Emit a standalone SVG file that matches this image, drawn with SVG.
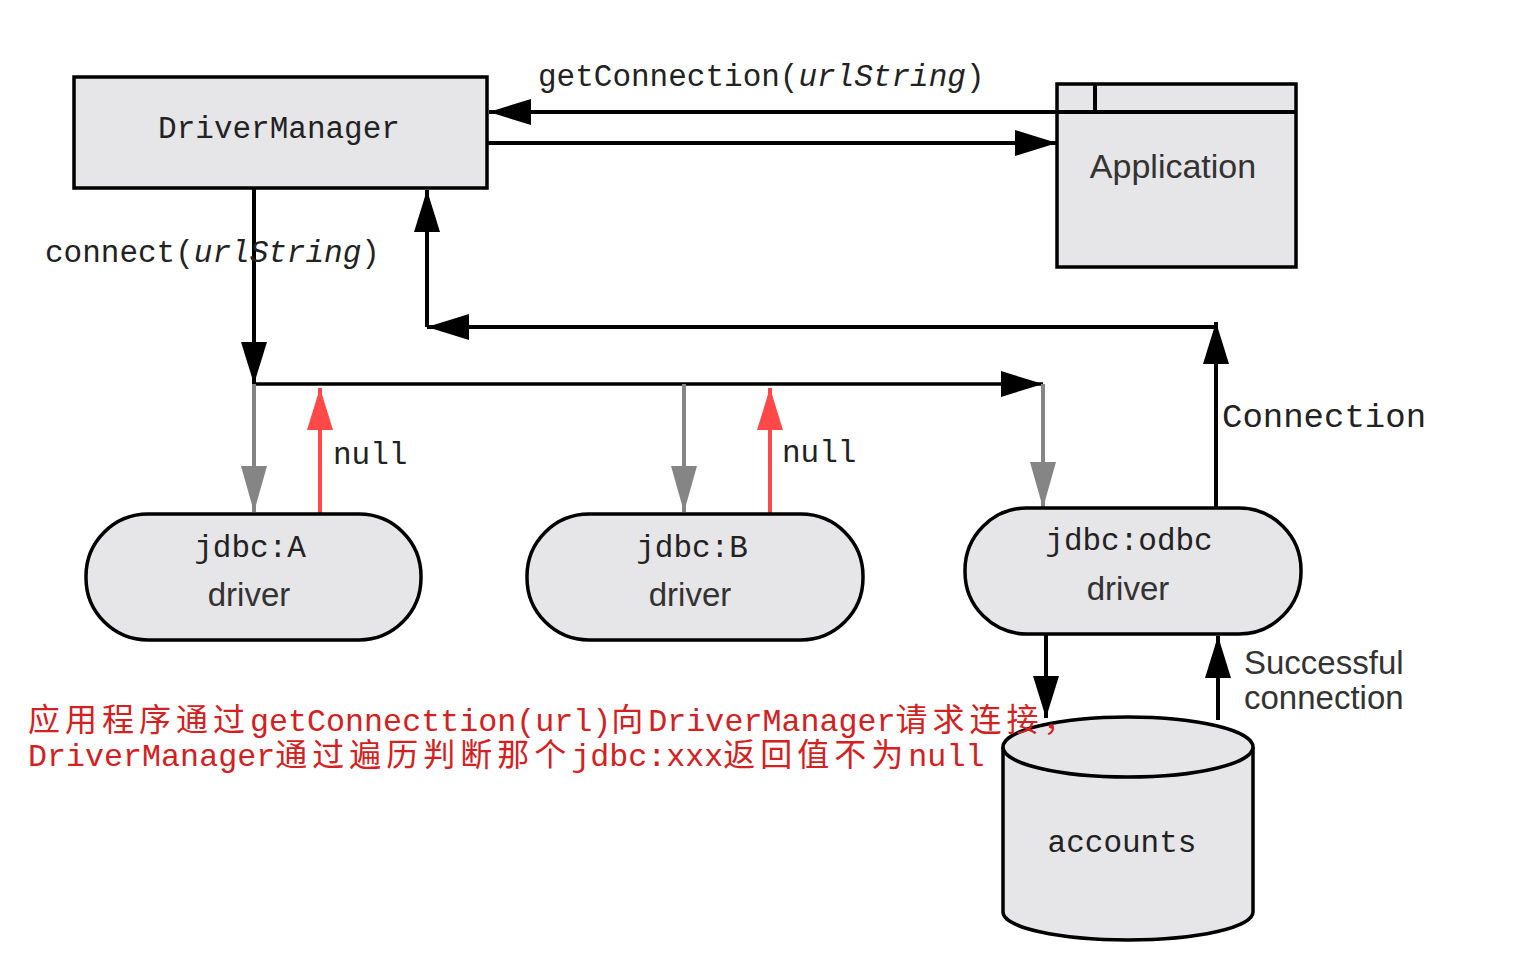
<svg xmlns="http://www.w3.org/2000/svg" width="1515" height="979" viewBox="0 0 1515 979">
<defs>
<style>
.box{fill:#e6e5e7;stroke:#000;stroke-width:3.5}
.mono{font-family:"Liberation Mono","Courier New",monospace;font-size:31px;fill:#222}
.sans{font-family:"Liberation Sans",Arial,sans-serif;font-size:33px;fill:#333}
.blk{stroke:#000;stroke-width:4;fill:none}
.gry{stroke:#858585;stroke-width:4;fill:none}
.red{stroke:#ff4848;stroke-width:4;fill:none}
.cn{font-family:"Noto Sans CJK SC",sans-serif;font-size:32px;letter-spacing:5px}
.lt{font-family:"Liberation Mono",monospace;font-size:31.7px}
</style>
<marker id="ab" markerUnits="userSpaceOnUse" markerWidth="44" markerHeight="28" refX="42" refY="13" orient="auto"><path d="M0,0 L42,13 L0,26 z" fill="#000"/></marker>
<marker id="ag" markerUnits="userSpaceOnUse" markerWidth="48" markerHeight="28" refX="46" refY="13" orient="auto"><path d="M0,0 L46,13 L0,26 z" fill="#858585"/></marker>
<marker id="ar" markerUnits="userSpaceOnUse" markerWidth="44" markerHeight="28" refX="42" refY="13" orient="auto"><path d="M0,0 L42,13 L0,26 z" fill="#ff4848"/></marker>
</defs>
<rect width="1515" height="979" fill="#fff"/>

<g id="connectors">
<line class="blk" x1="1057" y1="112" x2="489" y2="112" marker-end="url(#ab)"/>
<line class="blk" x1="487" y1="143" x2="1057" y2="143" marker-end="url(#ab)"/>
<line class="blk" x1="254" y1="188" x2="254" y2="384" marker-end="url(#ab)"/>
<line class="blk" x1="427" y1="327" x2="427" y2="190" marker-end="url(#ab)"/>
<line class="blk" x1="1216" y1="327" x2="427" y2="327" marker-end="url(#ab)"/>
<line class="blk" x1="1216" y1="508" x2="1216" y2="322" marker-end="url(#ab)"/>
<line class="blk" x1="254" y1="384" x2="1043" y2="384" marker-end="url(#ab)" style="stroke-width:3.5"/>
<line class="gry" x1="254" y1="384" x2="254" y2="512" marker-end="url(#ag)"/>
<line class="gry" x1="684" y1="384" x2="684" y2="512" marker-end="url(#ag)"/>
<line class="gry" x1="1043" y1="384" x2="1043" y2="508" marker-end="url(#ag)"/>
<line class="red" x1="320" y1="514" x2="320" y2="388" marker-end="url(#ar)"/>
<line class="red" x1="770" y1="514" x2="770" y2="388" marker-end="url(#ar)"/>
<line class="blk" x1="1046" y1="634" x2="1046" y2="718" marker-end="url(#ab)"/>
<line class="blk" x1="1218" y1="720" x2="1218" y2="636" marker-end="url(#ab)"/>
<text class="mono" x="538" y="86">getConnection(<tspan font-style="italic">urlString</tspan>)</text>
<text class="mono" x="45" y="262">connect(<tspan font-style="italic">urlString</tspan>)</text>
<text class="mono" x="333" y="464">null</text>
<text class="mono" x="782" y="462">null</text>
<text class="mono" x="1222" y="427" style="font-size:34px">Connection</text>
<text class="sans" x="1244" y="674">Successful</text>
<text class="sans" x="1244" y="709">connection</text>
</g>

<g id="driverManager">
<rect class="box" x="74" y="77" width="413" height="111"/>
<text class="mono" x="279" y="138" text-anchor="middle">DriverManager</text>
</g>

<g id="application">
<rect class="box" x="1057" y="84" width="239" height="183"/>
<line class="blk" x1="1057" y1="112" x2="1296" y2="112"/>
<line class="blk" x1="1095" y1="84" x2="1095" y2="112"/>
<text class="sans" x="1173" y="178" text-anchor="middle" style="font-size:34px">Application</text>
</g>

<g id="jdbcA">
<rect class="box" x="86" y="514" width="335" height="126" rx="62" ry="62"/>
<text class="mono" x="250" y="557" text-anchor="middle">jdbc:A</text>
<text class="sans" x="249" y="606" text-anchor="middle">driver</text>
</g>

<g id="jdbcB">
<rect class="box" x="527" y="514" width="336" height="126" rx="62" ry="62"/>
<text class="mono" x="692" y="557" text-anchor="middle">jdbc:B</text>
<text class="sans" x="690" y="606" text-anchor="middle">driver</text>
</g>

<g id="jdbcOdbc">
<rect class="box" x="965" y="508" width="336" height="126" rx="62" ry="62"/>
<text class="mono" x="1129" y="550" text-anchor="middle">jdbc:odbc</text>
<text class="sans" x="1128" y="600" text-anchor="middle">driver</text>
</g>

<g id="accounts">
<path class="box" d="M1003,747 L1003,912 A125,28 0 0 0 1253,912 L1253,747"/>
<ellipse class="box" cx="1128" cy="747" rx="125" ry="30"/>
<text class="mono" x="1122" y="852" text-anchor="middle">accounts</text>
</g>

<g id="note" fill="#d42020">
<text x="28" y="731"><tspan class="cn">应用程序通过</tspan><tspan class="lt">getConnecttion(url)</tspan><tspan class="cn">向</tspan><tspan class="lt">DriverManager</tspan><tspan class="cn">请求连接，</tspan></text>
<text x="28" y="766"><tspan class="lt">DriverManager</tspan><tspan class="cn">通过遍历判断那个</tspan><tspan class="lt">jdbc:xxx</tspan><tspan class="cn">返回值不为</tspan><tspan class="lt">null</tspan></text>
</g>
</svg>
